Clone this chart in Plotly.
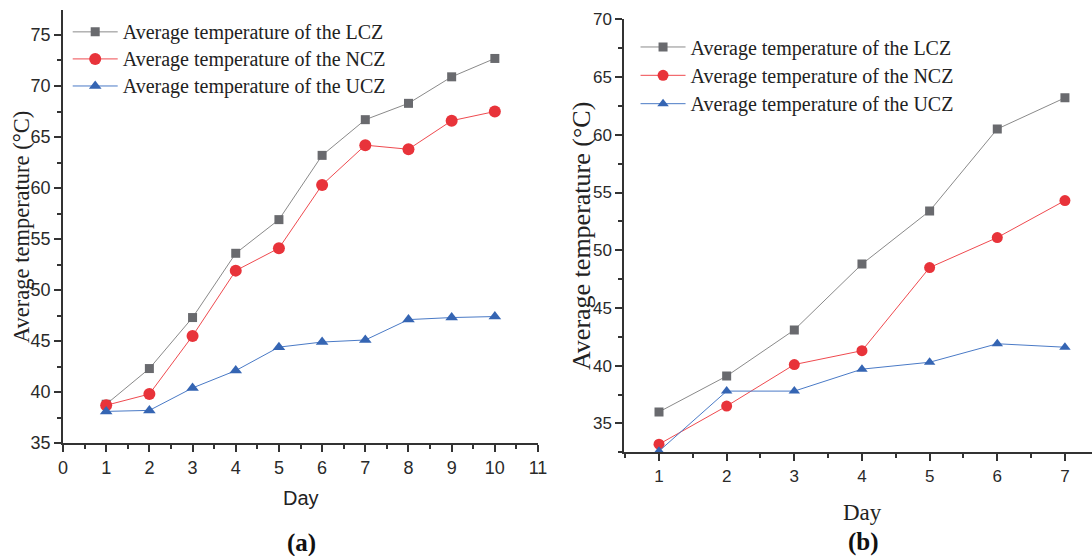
import plotly.graph_objects as go

# ---- data: panel (a) ----
days_a = [1, 2, 3, 4, 5, 6, 7, 8, 9, 10]
lcz_a = [38.8, 42.3, 47.3, 53.6, 56.9, 63.2, 66.7, 68.3, 70.9, 72.7]
ncz_a = [38.7, 39.8, 45.5, 51.9, 54.1, 60.3, 64.2, 63.8, 66.6, 67.5]
ucz_a = [38.1, 38.2, 40.4, 42.1, 44.4, 44.9, 45.1, 47.1, 47.3, 47.4]

# ---- data: panel (b) ----
days_b = [1, 2, 3, 4, 5, 6, 7]
lcz_b = [36.0, 39.1, 43.1, 48.8, 53.4, 60.5, 63.2]
ncz_b = [33.2, 36.5, 40.1, 41.3, 48.5, 51.1, 54.3]
ucz_b = [32.6, 37.8, 37.8, 39.7, 40.3, 41.9, 41.6]

names = ["Average temperature of the LCZ",
         "Average temperature of the NCZ",
         "Average temperature of the UCZ"]

GREY_LINE, GREY_MK = "#8a8a8a", "#696a6e"
RED_LINE, RED_MK = "#ef4a4f", "#e8333a"
BLUE_LINE, BLUE_MK = "#4a7ac6", "#3565b3"
AX = "#333333"
SANS = "Liberation Sans, Arial, sans-serif"
SERIF = "Liberation Serif, Times New Roman, serif"

styles = [
    dict(line=GREY_LINE, mk=GREY_MK, symbol="square", size=9),
    dict(line=RED_LINE, mk=RED_MK, symbol="circle", size=12),
    dict(line=BLUE_LINE, mk=BLUE_MK, symbol="triangle-up", size=11),
]


def legend_label(text):
    # legend rows are spaced by the legend font; entries use a slightly larger face
    return f'<span style="font-size:20px">{text}</span>'


fig = go.Figure()

for series, st, nm in zip([lcz_a, ncz_a, ucz_a], styles, names):
    fig.add_trace(go.Scatter(
        x=days_a, y=series, name=legend_label(nm), mode="lines+markers",
        line=dict(color=st["line"], width=1),
        marker=dict(color=st["mk"], symbol=st["symbol"], size=st["size"]),
        xaxis="x", yaxis="y", legend="legend", cliponaxis=False,
    ))

for series, st, nm in zip([lcz_b, ncz_b, ucz_b], styles, names):
    fig.add_trace(go.Scatter(
        x=days_b, y=series, name=legend_label(nm), mode="lines+markers",
        line=dict(color=st["line"], width=1),
        marker=dict(color=st["mk"], symbol=st["symbol"],
                    size=st["size"] - 1 if st["symbol"] != "square" else st["size"]),
        xaxis="x2", yaxis="y2", legend="legend2",
    ))

XA_DOM = [0.0577, 0.4927]
YA_DOM = [0.2032, 0.982]
XB_DOM = [0.5717, 1.0]
YB_DOM = [0.1865, 0.9653]

XA_RANGE = [0, 11]
YA_RANGE = [35, 77.45]
XB_RANGE = [0.487, 7.4]
YB_RANGE = [32.5, 70]


def base_axis(**kw):
    d = dict(showline=True, linewidth=2, linecolor=AX, showgrid=False,
             zeroline=False, ticks="outside", ticklen=7, tickwidth=1.5,
             tickcolor=AX, tickfont=dict(family=SANS, size=18, color="#2a2a2a"),
             minor=dict(ticks="outside", ticklen=4, tickwidth=1.5, tickcolor=AX))
    d.update(kw)
    return d


def mirror_axis(**kw):
    d = dict(showline=True, linewidth=2, linecolor=AX, showgrid=False,
             zeroline=False, ticks="inside", ticklen=6, tickwidth=1.5,
             tickcolor=AX, showticklabels=False,
             minor=dict(ticks="inside", ticklen=4, tickwidth=1.5, tickcolor=AX))
    d.update(kw)
    return d


fig.update_layout(
    width=1092, height=556,
    margin=dict(l=0, r=0, t=0, b=0, autoexpand=False),
    paper_bgcolor="white", plot_bgcolor="white",
    xaxis=base_axis(domain=XA_DOM, range=XA_RANGE, anchor="y",
                    tickmode="linear", tick0=0, dtick=1,
                    minor=dict(ticks="outside", ticklen=4, tickwidth=1.5,
                               tickcolor=AX, tick0=0.5, dtick=1)),
    yaxis=base_axis(domain=YA_DOM, range=YA_RANGE, anchor="x",
                    tickmode="linear", tick0=35, dtick=5,
                    minor=dict(ticks="outside", ticklen=4, tickwidth=1.5,
                               tickcolor=AX, tick0=37.5, dtick=5)),
    xaxis3=mirror_axis(domain=XA_DOM, range=XA_RANGE, anchor="y",
                       overlaying="x", side="top",
                       tickmode="linear", tick0=0, dtick=1,
                       minor=dict(ticks="inside", ticklen=4, tickwidth=1.5,
                                  tickcolor=AX, tick0=0.5, dtick=1)),
    yaxis3=mirror_axis(domain=YA_DOM, range=YA_RANGE, anchor="x",
                       overlaying="y", side="right",
                       tickmode="linear", tick0=35, dtick=5,
                       minor=dict(ticks="inside", ticklen=4, tickwidth=1.5,
                                  tickcolor=AX, tick0=37.5, dtick=5)),
    xaxis2=base_axis(domain=XB_DOM, range=XB_RANGE, anchor="y2",
                     tickmode="linear", tick0=1, dtick=1,
                     tickfont=dict(family=SANS, size=17, color="#2a2a2a"),
                     minor=dict(ticks="outside", ticklen=4, tickwidth=1.5,
                                tickcolor=AX, tick0=0.5, dtick=1)),
    yaxis2=base_axis(domain=YB_DOM, range=YB_RANGE, anchor="x2",
                     tickmode="linear", tick0=35, dtick=5,
                     tickfont=dict(family=SANS, size=17, color="#2a2a2a"),
                     minor=dict(ticks="outside", ticklen=4, tickwidth=1.5,
                                tickcolor=AX, tick0=32.5, dtick=5)),
    xaxis4=mirror_axis(domain=XB_DOM, range=XB_RANGE, anchor="y2",
                       overlaying="x2", side="top",
                       tickmode="linear", tick0=1, dtick=1,
                       minor=dict(ticks="inside", ticklen=4, tickwidth=1.5,
                                  tickcolor=AX, tick0=0.5, dtick=1)),
    legend=dict(x=0.062, y=0.976, xanchor="left", yanchor="top",
                bgcolor="rgba(0,0,0,0)", borderwidth=0, itemwidth=45,
                font=dict(family=SERIF, size=18.5, color="#222222"),
                tracegroupgap=0),
    legend2=dict(x=0.582, y=0.95, xanchor="left", yanchor="top",
                 bgcolor="rgba(0,0,0,0)", borderwidth=0, itemwidth=45,
                 font=dict(family=SERIF, size=19.5, color="#222222"),
                 tracegroupgap=0),
    showlegend=True,
)

# axis titles and panel labels
ann = [
    dict(text="Average temperature (°C)", x=21, y=227, textangle=-90,
         font=dict(family=SERIF, size=22.5, color="#222222")),
    dict(text="Day", x=301, y=498, font=dict(family=SANS, size=20, color="#222222")),
    dict(text="<b>(a)</b>", x=301, y=543, font=dict(family=SERIF, size=25, color="#111111")),
    dict(text="Average temperature (°C)", x=581, y=236, textangle=-90,
         font=dict(family=SERIF, size=26, color="#222222")),
    dict(text="Day", x=862, y=512, font=dict(family=SERIF, size=23, color="#222222")),
    dict(text="<b>(b)</b>", x=863, y=542, font=dict(family=SERIF, size=25, color="#111111")),
]
for a in ann:
    a.update(xref="paper", yref="paper", showarrow=False,
             xanchor="center", yanchor="middle")
    a["x"] = a["x"] / 1092
    a["y"] = 1 - a["y"] / 556
    fig.add_annotation(**a)

fig.write_html("out.html")
